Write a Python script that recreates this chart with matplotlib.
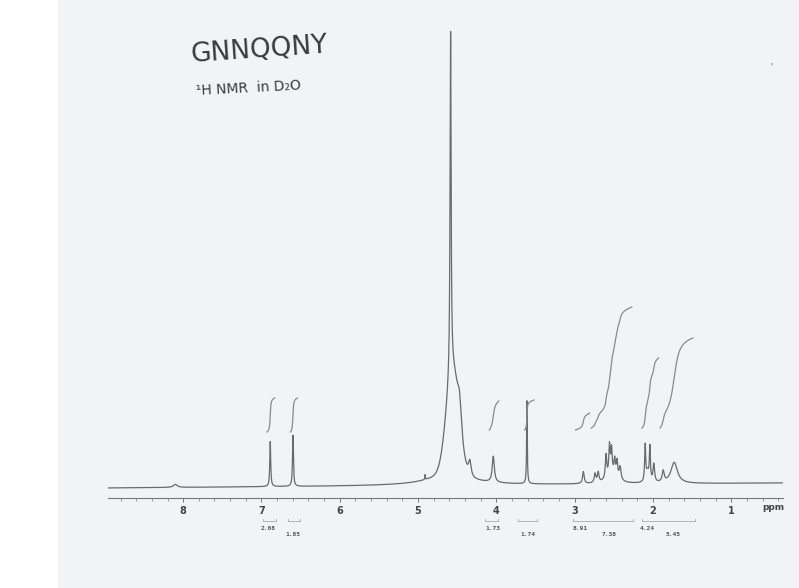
import numpy as np
import matplotlib
matplotlib.use("Agg")
import matplotlib.pyplot as plt
from matplotlib.patches import Rectangle
from matplotlib.ticker import MultipleLocator

#----------------------------------------------------------------------------------------#
# Data (ppm, height above baseline, half width)

# narrow lines (lorentzian)
peak_ppm = [8.10, 6.888, 6.598, 4.91, 4.585, 4.60, 4.47, 4.34, 4.04, 3.61,
            2.89, 2.74, 2.70, 2.60, 2.556, 2.53, 2.49, 2.46, 2.42, 2.52,
            2.10, 2.07, 2.04, 1.99, 1.87, 1.73]
peak_height = [3, 45, 51, 5, 345, 12, 28, 15, 26, 83,
               12, 9, 10, 24, 30, 25, 16, 16, 13, 8,
               36, 10, 34, 18, 11, 21]
peak_width = [0.03, 0.007, 0.007, 0.004, 0.008, 0.3, 0.03, 0.02, 0.016, 0.005,
              0.012, 0.012, 0.012, 0.011, 0.01, 0.01, 0.011, 0.011, 0.014, 0.08,
              0.008, 0.02, 0.008, 0.012, 0.015, 0.05]

# broad foot of the HOD signal (gaussian)
foot_ppm = [4.56]
foot_height = [100]
foot_sigma = [0.08]

baseline_left = 10    # at 9 ppm
baseline_right = 15   # at 0.3 ppm

# integral traces: start ppm, end ppm, start level, rise
int_start = [6.93, 6.63, 4.09, 3.64, 2.99, 2.79, 2.14, 1.91]
int_end = [6.83, 6.54, 3.97, 3.52, 2.81, 2.27, 1.93, 1.49]
int_y0 = [66, 66, 68, 68, 68, 70, 70, 70]
int_rise = [34, 34, 29, 30, 17, 121, 70, 90]

# integration values printed under the axis
int_labels = ['2.08', '1.85', '1.73', '1.74', '8.91', '7.38', '4.24', '5.45']
int_label_ppm = [6.91, 6.595, 4.04, 3.594, 2.93, 2.56, 2.07, 1.74]
int_label_row = [0, 1, 0, 1, 0, 1, 0, 1]

bracket_from = [6.98, 6.66, 4.14, 3.72, 3.02, 2.14]
bracket_to = [6.81, 6.51, 3.98, 3.48, 2.25, 1.46]

#----------------------------------------------------------------------------------------#
# Build the trace

ppm = np.linspace(8.96, 0.34, 20000)
base = baseline_left + (baseline_right - baseline_left) * (8.96 - ppm) / (8.96 - 0.34)

def lorentz(x, x0, h, g):
    return h / (1.0 + ((x - x0) / g) ** 2)

def gauss(x, x0, h, s):
    return h * np.exp(-(x - x0) ** 2 / (2 * s ** 2))

signal = np.zeros_like(ppm)
for p, h, w in zip(peak_ppm, peak_height, peak_width):
    signal += lorentz(ppm, p, h, w)
for p, h, s in zip(foot_ppm, foot_height, foot_sigma):
    signal += gauss(ppm, p, h, s)
spec = base + signal

#----------------------------------------------------------------------------------------#
# Plot

W, H = 799, 588
fig = plt.figure(figsize=(W / 100, H / 100), dpi=100)
fig.patch.set_facecolor('#f2f3f6')
fig.add_artist(Rectangle((0, 0), 58 / W, 1, transform=fig.transFigure,
                         facecolor='white', edgecolor='none', zorder=-1))

ax = fig.add_axes([108 / W, (H - 498) / H, 675 / W, 498 / H])
ax.set_facecolor('none')
ax.set_xlim(8.96, 0.34)
ax.set_ylim(0, 498)

ax.plot(ppm, spec, color='#6a6a6a', lw=0.9)

# integral curves
for a, b, y0, r in zip(int_start, int_end, int_y0, int_rise):
    m = (ppm <= a) & (ppm >= b)
    c = np.cumsum(signal[m])
    c = (c - c[0]) / (c[-1] - c[0])
    ax.plot(ppm[m], y0 + r * c, color='#8a8a8a', lw=0.9)

for s in ['top', 'left', 'right']:
    ax.spines[s].set_visible(False)
ax.spines['bottom'].set_color('#777777')
ax.spines['bottom'].set_linewidth(0.8)
ax.set_yticks([])
ax.xaxis.set_major_locator(MultipleLocator(1))
ax.xaxis.set_minor_locator(MultipleLocator(0.2))
ax.tick_params(axis='x', which='major', length=3, width=0.7, color='#777777',
               pad=3, labelsize=7, labelcolor='#444444')
ax.tick_params(axis='x', which='minor', length=2, width=0.6, color='#888888')
for t in ax.get_xticklabels():
    t.set_fontweight('bold')

fig.text(773 / W, 1 - 508 / H, 'ppm', fontsize=6.5, color='#444444',
         ha='center', va='center', fontweight='bold')

# integration brackets and values
def fy(py):
    return 1 - py / H

trans = ax.get_xaxis_transform()
for a, b in zip(bracket_from, bracket_to):
    ax.plot([a, b], [-23 / 498, -23 / 498], transform=trans, color='#aaaaaa',
            lw=0.6, clip_on=False)
    for e in (a, b):
        ax.plot([e, e], [-23 / 498, -21 / 498], transform=trans, color='#aaaaaa',
                lw=0.6, clip_on=False)

for lab, p, row in zip(int_labels, int_label_ppm, int_label_row):
    py = 528 if row == 0 else 535
    ax.text(p, -(py - 498) / 498, lab, transform=trans, fontsize=4.5,
            fontweight='bold', color='#555555', ha='center', va='center',
            family='DejaVu Sans Mono')

# handwritten notes
fig.text(190 / W, fy(50), 'GNNQQNY', fontsize=19, color='#3a3a3a',
         rotation=4, ha='left', va='center', family='DejaVu Sans')
fig.text(195 / W, fy(88), '¹H NMR  in D₂O', fontsize=10, color='#3a3a3a',
         rotation=3, ha='left', va='center', family='DejaVu Sans')
fig.text(770 / W, fy(70), "'", fontsize=6, color='#555555')

fig.savefig('out.png', dpi=100, facecolor=fig.get_facecolor())
